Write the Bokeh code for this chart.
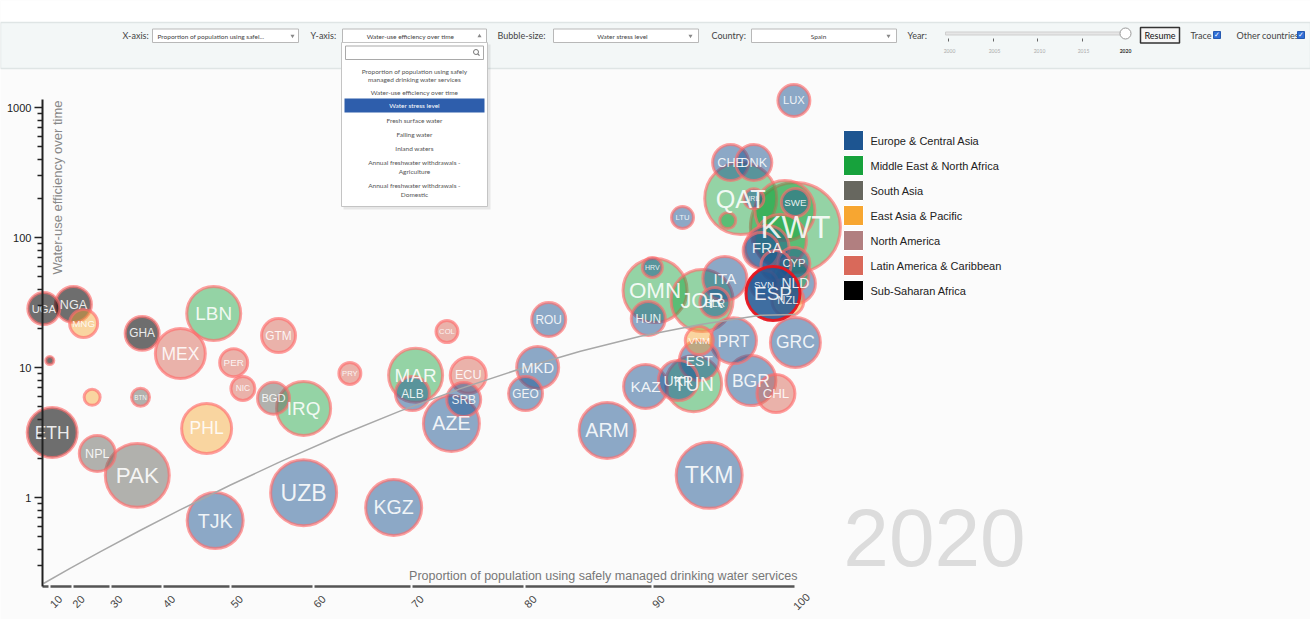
import math
import numpy as np
from bokeh.plotting import figure
from bokeh.models import Range1d, LinearScale, LinearAxis, LogAxis, FixedTicker, ColumnDataSource
from bokeh.core.properties import value
from bokeh.embed import file_html
from bokeh.resources import INLINE

# ---------------------------------------------------------------- data (year 2020)
countries = ["UGA", "NGA", "MNG", "GHA", "LBR", "PNG", "BTN", "ETH", "NPL", "PAK",
             "LBN", "MEX", "GTM", "PER", "NIC", "BGD", "IRQ", "PHL", "TJK", "UZB",
             "PRY", "COL", "MAR", "ALB", "ECU", "SRB", "AZE", "KGZ", "ROU", "MKD",
             "GEO", "ARM", "TKM", "CHL", "BGR", "HRV", "OMN", "HUN", "JOR", "ITA",
             "BLR", "SVN", "ESP", "NLD", "NZL", "GRC", "PRT", "VNM", "EST", "KAZ",
             "UKR", "TUN", "LUX", "CHE", "DNK", "QAT", "BHR", "IRL", "LTU", "KWT",
             "SWE", "FRA", "CYP", "ARE", "SAU", "ISR", "AUT", "BEL"]
region_codes = ["SSA", "SSA", "EAP", "SSA", "SSA", "EAP", "SAS", "SSA", "SAS", "SAS",
                "MENA", "LAC", "LAC", "LAC", "LAC", "SAS", "MENA", "EAP", "ECA", "ECA",
                "LAC", "LAC", "MENA", "ECA", "LAC", "ECA", "ECA", "ECA", "ECA", "ECA",
                "ECA", "ECA", "ECA", "LAC", "ECA", "ECA", "MENA", "ECA", "MENA", "ECA",
                "ECA", "ECA", "ECA", "ECA", "EAP", "ECA", "ECA", "EAP", "ECA", "ECA",
                "ECA", "MENA", "ECA", "ECA", "ECA", "MENA", "MENA", "ECA", "ECA", "MENA",
                "ECA", "ECA", "ECA", "MENA", "MENA", "MENA", "ECA", "ECA"]
# Proportion of population using safely managed drinking water services (%)
water_access = [4.3, 20.3, 23.4, 36.4, 9.9, 25.7, 36.1, 11.4, 27.0, 35.5,
                47.7, 42.8, 56.0, 50.4, 51.6, 55.4, 58.9, 46.7, 47.9, 58.9,
                63.9, 73.3, 70.4, 70.1, 75.2, 74.8, 73.7, 68.3, 82.0, 81.1,
                80.1, 86.6, 94.1, 98.7, 97.0, 90.0, 90.2, 89.7, 93.6, 95.2,
                94.5, 97.9, 98.5, 100.0, 99.5, 100.0, 95.8, 93.4, 93.4, 89.5,
                91.9, 93.0, 99.9, 95.6, 97.2, 96.3, 95.4, 97.2, 92.2, 100.0,
                100.0, 98.1, 99.9, 99.3, 99.0, 99.7, 98.7, 97.7]
# Water-use efficiency over time
efficiency = [28.4, 30.5, 21.8, 18.3, 11.3, 5.9, 5.9, 3.16, 2.18, 1.48,
              26.0, 12.8, 17.6, 10.9, 6.9, 5.8, 4.84, 3.40, 0.665, 1.09,
              9.0, 18.9, 8.7, 6.3, 8.7, 5.67, 3.71, 0.838, 23.4, 10.0,
              6.3, 3.28, 1.48, 6.3, 7.94, 58.8, 39.1, 23.8, 32.8, 48.4,
              31.6, 43.5, 37.1, 44.3, 32.8, 15.6, 16.1, 16.1, 11.3, 7.14,
              7.94, 7.5, 1132.0, 377.0, 377.0, 199.5, 135.0, 199.0, 142.6, 119.4,
              186.0, 83.8, 63.1, 161.0, 94.8, 51.0, 60.9, 79.4]
# Water stress level (bubble size)
water_stress = [28.4, 36.0, 21.8, 32.1, 1.8, 7.1, 9.0, 69.4, 36.0, 113.8,
                81.0, 69.4, 32.1, 21.8, 16.0, 28.4, 81.0, 69.4, 87.1, 121.0,
                13.4, 13.4, 81.0, 32.1, 36.0, 32.1, 87.1, 87.1, 32.1, 49.0,
                32.1, 87.1, 121.0, 40.1, 69.4, 11.1, 113.8, 32.1, 106.8, 53.8,
                25.0, 21.8, 81.0, 44.4, 28.4, 69.4, 58.8, 21.8, 44.4, 53.8,
                44.4, 87.1, 28.4, 36.0, 36.0, 144.0, 7.1, 11.1, 13.4, 225.0,
                21.8, 53.8, 28.4, 100.0, 75.1, 36.0, 25.0, 36.0]
selected_country = "ESP"

# trace of the selected country
trace_x = [3.82, 19.32, 27.78, 36.09, 42.83, 49.98, 56.23, 62.92, 68.96, 74.51,
           79.68, 84.53, 89.12, 93.48, 97.65, 100.0]
trace_y = [0.218, 0.286, 0.383, 0.560, 0.806, 1.248, 1.889, 3.015, 4.637, 6.88,
           9.79, 13.35, 17.38, 21.38, 25.2, 25.56]

x_ticks = [10, 20, 30, 40, 50, 60, 70, 80, 90, 100]
y_ticks = [1, 10, 100, 1000]
y_minor = [0.3, 0.4, 0.5, 0.6, 0.7, 0.8, 0.9] + [2, 3, 4, 5, 6, 7, 8, 9] + \
          [20, 30, 40, 50, 60, 70, 80, 90] + [200, 300, 400, 500, 600, 700, 800, 900]

region_keys = ["ECA", "MENA", "SAS", "EAP", "NAC", "LAC", "SSA"]
region_names = ["Europe & Central Asia", "Middle East & North Africa", "South Asia",
                "East Asia & Pacific", "North America", "Latin America & Caribbean",
                "Sub-Saharan Africa"]

x_title = "Proportion of population using safely managed drinking water services"
y_title = "Water-use efficiency over time"
year_label = "2020"
slider_years = ["2000", "2005", "2010", "2015", "2020"]
dropdown_options = ["Proportion of population using safely", "managed drinking water services",
                    "Water-use efficiency over time", "Water stress level", "Fresh surface water",
                    "Falling water", "Inland waters", "Annual freshwater withdrawals -",
                    "Agriculture", "Annual freshwater withdrawals -", "Domestic"]

assert len(countries) == len(region_codes) == len(water_access) == len(efficiency) == len(water_stress)
assert len(trace_x) == len(trace_y)

# ---------------------------------------------------------------- styles
REGION_COLORS = {"ECA": "#1d5591", "MENA": "#17a23c", "SAS": "#67675f", "EAP": "#f7a631",
                 "NAC": "#b17f80", "LAC": "#d9695a", "SSA": "#000000"}
REGION_ALPHA = {"ECA": 0.5, "MENA": 0.45, "SAS": 0.5, "EAP": 0.45, "NAC": 0.5, "LAC": 0.5, "SSA": 0.56}
HIDDEN_LABELS = {"LBR", "PNG", "BHR", "ARE", "SAU", "ISR", "AUT", "BEL"}
FONT = "Liberation Sans"
UI_FONT = "Lato"

W, H = 1310, 619
X0_PX, X_SLOPE = 41.9, 0.0753   # screen x = X0 + slope * value^2  (power scale, exponent 2)
Y1_PX, DEC_PX = 497.0, 130.0    # screen y of value 1, pixels per decade
x_lo = (0 - X0_PX) / X_SLOPE
x_hi = (W - X0_PX) / X_SLOPE
y_lo = 10 ** ((Y1_PX - H) / DEC_PX)
y_hi = 10 ** (Y1_PX / DEC_PX)
axis_y = 10 ** ((Y1_PX - 586.0) / DEC_PX)

p = figure(width=W, height=H, x_range=Range1d(x_lo, x_hi), y_range=Range1d(y_lo, y_hi),
           y_axis_type="log", x_axis_location=None, y_axis_location=None,
           output_backend="svg", toolbar_location=None, min_border=0,
           background_fill_color="#fbfbfb", border_fill_color="#fbfbfb", outline_line_color=None)
p.grid.visible = False
p.extra_x_ranges = {"px": Range1d(0, W)}
p.extra_y_ranges = {"px": Range1d(H, 0)}
p.extra_x_scales = {"px": LinearScale()}
p.extra_y_scales = {"px": LinearScale()}


def ptext(x, y, txt, size, color="#444", align="left", font=UI_FONT, style="normal",
          angle=0.0, alpha=1.0, baseline="middle"):
    p.text(x=[x], y=[y], text=[txt], x_range_name="px", y_range_name="px",
           text_font=value(font), text_font_size=size, text_color=color, text_align=align,
           text_baseline=baseline, text_font_style=style, angle=angle, text_alpha=alpha)


def pbox(l, r, t, b, fill, line=None, lw=1.0, alpha=1.0):
    p.quad(left=[l], right=[r], top=[t], bottom=[b], x_range_name="px", y_range_name="px",
           fill_color=fill, fill_alpha=alpha, line_color=line, line_width=lw)


# ---------------------------------------------------------------- header bar
pbox(0, W, 0, 22, "#ffffff")
pbox(0, W, 22, 68, "#f3f7f7", "#dfe5e5", 1.5)

ptext(122, 35, "X-axis:", "9px")
pbox(152, 298, 28.5, 42, "#ffffff", "#b8b8b8")
ptext(157, 35.5, "Proportion of population using safel...", "6.5px", "#444")
ptext(310, 35, "Y-axis:", "9px")
pbox(342, 486, 28.5, 42, "#ffffff", "#b8b8b8")
ptext(410, 35.5, "Water-use efficiency over time", "6.5px", "#444", "center")
ptext(497, 35, "Bubble-size:", "9px")
pbox(553, 698, 28.5, 42, "#ffffff", "#b8b8b8")
ptext(622, 35.5, "Water stress level", "6.5px", "#444", "center")
ptext(711, 35, "Country:", "9px")
pbox(751, 896, 28.5, 42, "#ffffff", "#b8b8b8")
ptext(818, 35.5, "Spain", "6.5px", "#444", "center")
p.scatter(x=[292, 690, 888], y=[35.5, 35.5, 35.5], marker="inverted_triangle", size=4,
          fill_color="#888", line_color=None, x_range_name="px", y_range_name="px")
p.scatter(x=[479], y=[35.5], marker="triangle", size=4, fill_color="#888", line_color=None,
          x_range_name="px", y_range_name="px")

ptext(907, 35, "Year:", "9px")
pbox(945, 1125, 31.5, 34.5, "#e6e6e6", "#cfcfcf")
tick_xs = [948, 993, 1037, 1082]
p.segment(x0=tick_xs, y0=[38] * 4, x1=tick_xs, y1=[41] * 4, line_color="#666", line_width=1,
          x_range_name="px", y_range_name="px")
for i, yr in enumerate(slider_years):
    xx = [949, 994, 1039, 1083, 1125][i]
    last = i == len(slider_years) - 1
    ptext(xx, 50, yr, "5px", "#333" if last else "#aaa", "center",
          style="bold" if last else "normal")
p.scatter(x=[1125], y=[33], marker="circle", size=11, fill_color="#ffffff", line_color="#999",
          line_width=1, x_range_name="px", y_range_name="px")
pbox(1140, 1179, 27, 42.5, "#f6f6f6", "#333", 1.5)
ptext(1159.5, 35, "Resume", "9px", "#111", "center")
ptext(1190, 35, "Trace", "9px")
pbox(1213, 1220, 31, 38, "#2f6fd6", "#2559b0")
ptext(1216.5, 34.8, "\u2713", "7px", "#ffffff", "center", font="DejaVu Sans")
ptext(1236, 35, "Other countries", "9px")
pbox(1297, 1304, 31, 38, "#2f6fd6", "#2559b0")
ptext(1300.5, 34.8, "\u2713", "7px", "#ffffff", "center", font="DejaVu Sans")

# ---------------------------------------------------------------- axes
xaxis = LinearAxis(fixed_location=axis_y,
                   ticker=FixedTicker(ticks=[t * t for t in x_ticks]),
                   major_label_overrides={t * t: "" for t in x_ticks},
                   bounds=(0, 10000))
xaxis.axis_line_color = "#555555"
xaxis.axis_line_width = 2.5
xaxis.major_tick_line_color = "#fbfbfb"
xaxis.major_tick_line_width = 2
xaxis.major_tick_in = 3
xaxis.major_tick_out = 3
xaxis.minor_tick_line_color = None
p.add_layout(xaxis, "below")
# rotated tick labels, placed at the tick values through the x scale
p.text(x=[t * t for t in x_ticks], y=[axis_y] * len(x_ticks), text=[str(t) for t in x_ticks],
       angle=math.pi / 4, x_offset=6, y_offset=15, text_align="center", text_baseline="middle",
       text_font=value(FONT), text_font_size="11px", text_color="#444")

yaxis = LogAxis(fixed_location=0,
                ticker=FixedTicker(ticks=y_ticks, minor_ticks=y_minor),
                major_label_overrides={t: str(t) for t in y_ticks},
                bounds=(axis_y, 1150))
yaxis.axis_line_color = "#222"
yaxis.axis_line_width = 2
yaxis.major_tick_line_color = "#222"
yaxis.major_tick_line_width = 1.5
yaxis.major_tick_in = 0
yaxis.major_tick_out = 8
yaxis.minor_tick_line_color = "#222"
yaxis.minor_tick_line_width = 1.5
yaxis.minor_tick_in = 0
yaxis.minor_tick_out = 5
yaxis.major_label_text_font = FONT
yaxis.major_label_text_font_size = "11px"
yaxis.major_label_text_color = "#222"
yaxis.major_label_standoff = 3
p.add_layout(yaxis, "left")

# ---------------------------------------------------------------- big year
ptext(934, 537, year_label, "82px", "#dcdcdc", "center", font=FONT, baseline="middle")

# ---------------------------------------------------------------- bubbles
stress = np.array(water_stress)
radius = 3.0 * np.sqrt(stress)
order = [i for i in np.argsort(-stress, kind="stable") if countries[i] != selected_country]
sel = countries.index(selected_country)


def bubble_source(idx):
    return ColumnDataSource(dict(
        sx=[water_access[i] ** 2 for i in idx],
        y=[efficiency[i] for i in idx],
        size=[2 * radius[i] for i in idx],
        fill=[REGION_COLORS[region_codes[i]] for i in idx],
        falpha=[REGION_ALPHA[region_codes[i]] for i in idx],
        label=["" if countries[i] in HIDDEN_LABELS else countries[i] for i in idx],
        fs=["%.1fpx" % max(5.0, 0.7 * radius[i]) for i in idx],
    ))


src = bubble_source(order)
p.scatter(x="sx", y="y", size="size", source=src, marker="circle",
          fill_color="fill", fill_alpha="falpha",
          line_color="#ff6b6b", line_alpha=0.65, line_width=3)
src_sel = bubble_source([sel])
p.scatter(x="sx", y="y", size="size", source=src_sel, marker="circle",
          fill_color="#1d5591", fill_alpha=0.85, line_color="#e8141c", line_alpha=0.95, line_width=3)

# trace line
p.line(x=[v * v for v in trace_x], y=trace_y, line_color="#a8a8a8", line_width=1.5)

for s in (src, src_sel):
    p.text(x="sx", y="y", text="label", source=s, text_font=value(FONT), text_font_size="fs",
           text_color="#ffffff", text_alpha=0.88, text_align="center", text_baseline="middle")

# ---------------------------------------------------------------- axis titles
ptext(797, 582, x_title, "12.5px", "#777", "right", font=FONT, baseline="bottom")
ptext(57, 100, y_title, "13px", "#888", "right", font=FONT, angle=math.pi / 2)

# ---------------------------------------------------------------- legend
for k, (key, name) in enumerate(zip(region_keys, region_names)):
    cy = 140 + 25 * k
    pbox(843, 863, cy - 10, cy + 10, REGION_COLORS[key], "#ffffff", 1)
    ptext(870, cy, name, "11px", "#222", font=FONT)

# ---------------------------------------------------------------- open dropdown
pbox(343, 490, 44, 209, "#000000", None, alpha=0.08)
pbox(341, 487, 42, 206, "#ffffff", "#c4c4c4")
pbox(345, 483, 45.5, 59, "#ffffff", "#a9a9a9")
p.scatter(x=[475.5], y=[51.5], marker="circle", size=5, fill_color=None, line_color="#777",
          line_width=1, x_range_name="px", y_range_name="px")
p.segment(x0=[477.2], y0=[53.3], x1=[479], y1=[55.2], line_color="#777", line_width=1.2,
          x_range_name="px", y_range_name="px")
pbox(344, 484, 98, 112, "#2e5eac")
opt_y = [71, 79, 92, 105, 120, 134, 148, 162, 171, 185, 194]
for yy, txt in zip(opt_y, dropdown_options):
    hl = txt == "Water stress level"
    ptext(414, yy, txt, "6.5px", "#ffffff" if hl else "#555", "center")

open("out.html", "w").write(file_html(p, INLINE))
